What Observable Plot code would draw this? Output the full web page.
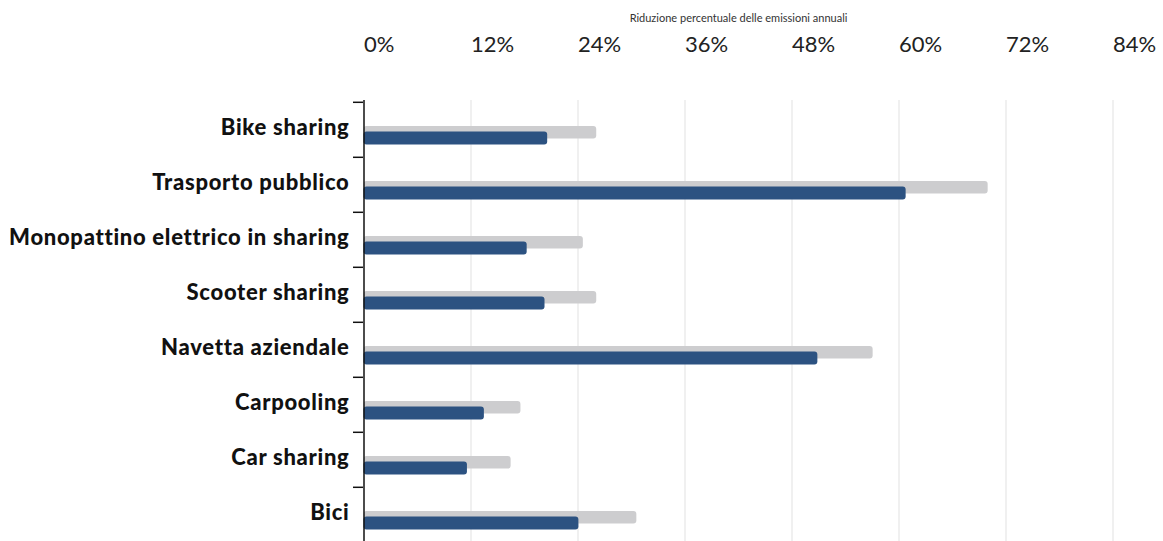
<!DOCTYPE html>
<html>
<head>
<meta charset="utf-8">
<script src="https://cdn.jsdelivr.net/npm/d3@7"></script>
<script src="https://cdn.jsdelivr.net/npm/@observablehq/plot@0.6"></script>
<style>
  html, body { margin: 0; padding: 0; background: #fff; }
  g[aria-label="y-axis tick label"] text { letter-spacing: 0.7px; }
</style>
</head>
<body>
<div id="chart"></div>
<script>
const categories = ["Bike sharing", "Trasporto pubblico", "Monopattino elettrico in sharing", "Scooter sharing", "Navetta aziendale", "Carpooling", "Car sharing", "Bici"];
const grayValues = [26.1, 70.0, 24.6, 26.1, 57.1, 17.6, 16.5, 30.6];
const blueValues = [20.6, 60.8, 18.3, 20.3, 50.9, 13.5, 11.6, 24.1];
const xTicks = [0, 12, 24, 36, 48, 60, 72, 84];
const title = "Riduzione percentuale delle emissioni annuali";

const rows = categories.map((c, i) => ({cat: c, gray: grayValues[i], blue: blueValues[i]}));

const chart = Plot.plot({
  width: 1163,
  height: 541,
  marginLeft: 363,
  marginRight: 50,
  marginTop: 100,
  marginBottom: 0,
  style: {fontFamily: "Lato, sans-serif", background: "#fff"},
  x: {domain: [0, 84], range: [363.5, 1112.5]},
  y: {domain: categories, range: [100, 543.2], padding: 0},
  marks: [
    Plot.ruleX(xTicks.slice(1), {stroke: "#ebebeb", strokeWidth: 1.5}),
    Plot.barX(rows, {x: "gray", y: "cat", fill: "#cdcdcf", insetTop: 24, insetBottom: 18.4, rx: 3}),
    Plot.barX(rows, {x: "blue", y: "cat", fill: "#2c5281", insetTop: 29.5, insetBottom: 12.4, rx: 3}),
    Plot.ruleX([0], {stroke: "#111", strokeWidth: 1.5}),
    Plot.axisY({tickSize: 0, tickPadding: 14, fontSize: 22, fontWeight: 900, fill: "#111", dy: -2, label: null}),
    Plot.axisY({tickSize: 10, tickFormat: () => "", dy: -27.7, stroke: "#111", strokeWidth: 1.5, label: null}),
    Plot.axisX(xTicks, {anchor: "top", tickSize: 0, tickFormat: d => d + "%", textAnchor: "start", fontSize: 22, fill: "#222", dy: -40, label: null}),
    Plot.text([title], {frameAnchor: "top", dy: -86, fontSize: 11, fill: "#333"})
  ]
});
document.getElementById("chart").appendChild(chart);
</script>
</body>
</html>
